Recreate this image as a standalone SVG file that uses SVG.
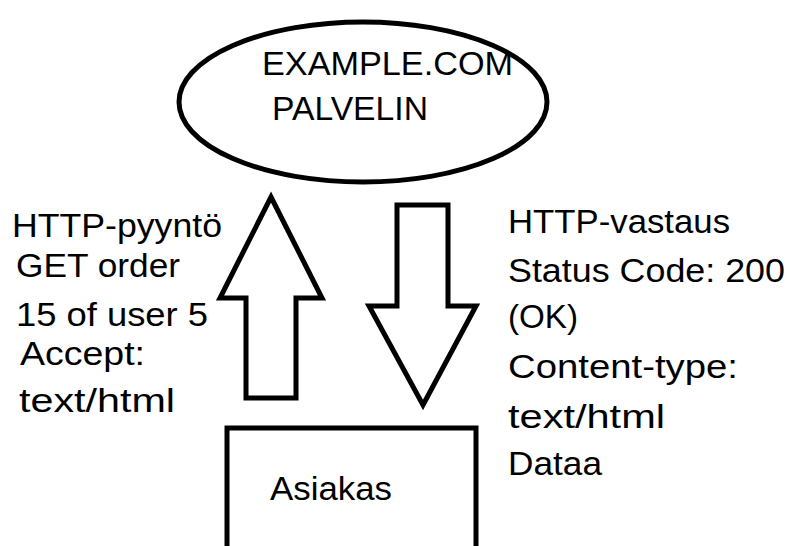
<svg xmlns="http://www.w3.org/2000/svg" width="792" height="546" viewBox="0 0 792 546">
<style>
.shape{fill:#fff;stroke:#000;stroke-width:5;stroke-linejoin:miter}
.t{font-family:"Liberation Sans","Open Sans",Arial,sans-serif;font-size:34px;fill:#000}
</style>
<rect width="792" height="546" fill="#fff"/>
<g id="server">
<ellipse class="shape" cx="363" cy="102" rx="184" ry="80"/>
<text class="t" x="262" y="75" textLength="251" lengthAdjust="spacingAndGlyphs">EXAMPLE.COM</text>
<text class="t" x="272" y="120" textLength="156" lengthAdjust="spacingAndGlyphs">PALVELIN</text>
</g>
<g id="client">
<rect class="shape" x="227" y="428" width="249" height="140"/>
<text class="t" x="270" y="500" textLength="122" lengthAdjust="spacingAndGlyphs">Asiakas</text>
</g>
<g id="connectors">
<polygon id="request-arrow" class="shape" points="271,197 322,298 296,298 296,398 246,398 246,298 220,298"/>
<polygon id="response-arrow" class="shape" points="397,205 448,205 448,306 476,306 423,405 369,306 397,306"/>
</g>
<g id="request-label">
<text class="t" x="12" y="237" textLength="210" lengthAdjust="spacingAndGlyphs">HTTP-pyyntö</text>
<text class="t" x="16" y="277" textLength="164" lengthAdjust="spacingAndGlyphs">GET order</text>
<text class="t" x="16" y="326" textLength="192" lengthAdjust="spacingAndGlyphs">15 of user 5</text>
<text class="t" x="20" y="365" textLength="125" lengthAdjust="spacingAndGlyphs">Accept:</text>
<text class="t" x="19" y="412" textLength="156" lengthAdjust="spacingAndGlyphs">text/html</text>
</g>
<g id="response-label">
<text class="t" x="508" y="233" textLength="222" lengthAdjust="spacingAndGlyphs">HTTP-vastaus</text>
<text class="t" x="508" y="282" textLength="277" lengthAdjust="spacingAndGlyphs">Status Code: 200</text>
<text class="t" x="508" y="328" textLength="70" lengthAdjust="spacingAndGlyphs">(OK)</text>
<text class="t" x="508" y="378" textLength="230" lengthAdjust="spacingAndGlyphs">Content-type:</text>
<text class="t" x="508" y="428" textLength="157" lengthAdjust="spacingAndGlyphs">text/html</text>
<text class="t" x="508" y="475" textLength="94" lengthAdjust="spacingAndGlyphs">Dataa</text>
</g>
</svg>
